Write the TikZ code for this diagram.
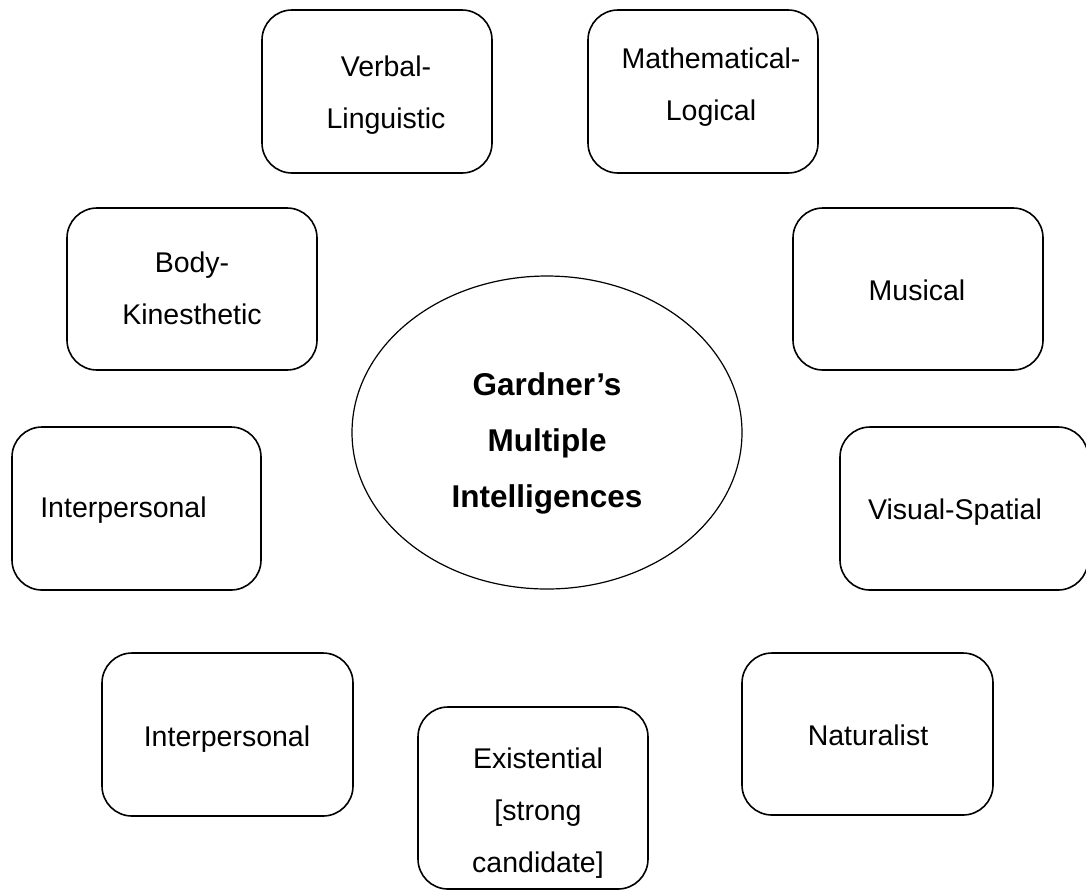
\documentclass[tikz,border=0pt]{standalone}
\usepackage{fontspec}
\setmainfont{Liberation Sans}
\usepackage{tikz}
\definecolor{white}{rgb}{1.0, 1.0, 1.0}
\definecolor{black}{rgb}{0.0, 0.0, 0.0}
\usetikzlibrary{shapes.geometric}
\pgfdeclarelayer{shapelayer}
\pgfdeclarelayer{textlayer}
\pgfsetlayers{shapelayer,main,textlayer}
\tikzstyle{box}=[rectangle,rounded corners=15pt,fill=white,draw=black,thick,inner sep=0pt]
\tikzstyle{hub}=[ellipse,fill=white,draw=black,semithick,inner sep=0pt]
\tikzstyle{txt}=[align=center,anchor=base,inner sep=0pt,font=\fontsize{14.25pt}{26pt}\selectfont]
\tikzstyle{hubtxt}=[align=center,anchor=base,inner sep=0pt,font=\fontsize{15.75pt}{28pt}\selectfont\bfseries]

\begin{document}
\begin{tikzpicture}[x=0.5pt,y=-0.5pt]
        \useasboundingbox (0,0) rectangle (1086,890);
        \begin{pgfonlayer}{shapelayer}
            \node [style = hub, minimum width=195pt, minimum height=156.5pt] (gardner) at (547, 432.5) {};

            \node [style = box, minimum width=115pt, minimum height=81.5pt] (verbal) at (377, 91.5) {};
            \node [style = box, minimum width=115pt, minimum height=81.5pt] (math) at (703, 91.5) {};
            \node [style = box, minimum width=125pt, minimum height=81pt] (body) at (192, 289) {};
            \node [style = box, minimum width=125pt, minimum height=81pt] (musical) at (918, 289) {};
            \node [style = box, minimum width=124.5pt, minimum height=81.5pt] (interl) at (136.5, 508.5) {};
            \node [style = box, minimum width=124pt, minimum height=81.5pt] (visual) at (964, 508.5) {};
            \node [style = box, minimum width=125.5pt, minimum height=81.5pt] (interb) at (227.5, 734.5) {};
            \node [style = box, minimum width=125.5pt, minimum height=81pt] (natural) at (867.5, 734) {};
            \node [style = box, minimum width=115pt, minimum height=91pt] (exist) at (533, 798) {};
        \end{pgfonlayer}

        % text sits on the baseline of its last line
        \begin{pgfonlayer}{textlayer}
            \node [style = hubtxt] (gardnertxt) at (547, 507) {Gardner’s\\Multiple\\Intelligences};

            \node [style = txt] (verbaltxt) at (386, 128) {Verbal-\\Linguistic};
            \node [style = txt] (mathtxt) at (711, 120) {Mathematical-\\Logical};
            \node [style = txt] (bodytxt) at (192, 324) {Body-\\Kinesthetic};
            \node [style = txt] (musicaltxt) at (917, 300) {Musical};
            \node [style = txt] (interltxt) at (123.5, 517) {Interpersonal};
            \node [style = txt] (visualtxt) at (955, 519) {Visual-Spatial};
            \node [style = txt] (interbtxt) at (227, 746) {Interpersonal};
            \node [style = txt] (naturaltxt) at (868, 745) {Naturalist};
            \node [style = txt] (existtxt) at (538, 872) {Existential\\{}[strong\\candidate]};
        \end{pgfonlayer}
    \end{tikzpicture}
\end{document}
